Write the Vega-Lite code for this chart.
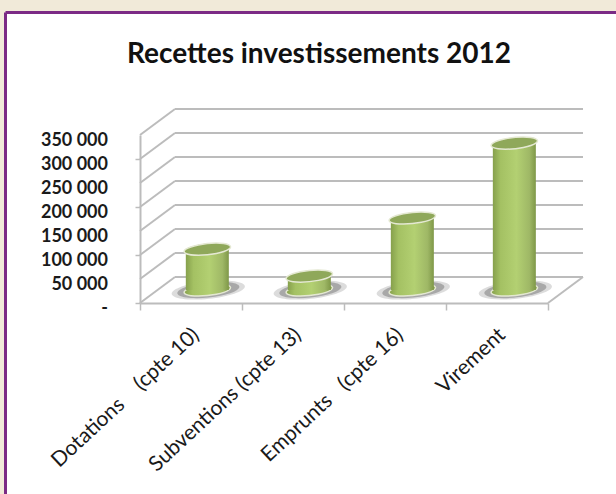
{
"$schema":"https://vega.github.io/schema/vega-lite/v6.json",
"width":408,"height":168,
"autosize":"none",
"padding":{"left":140,"top":135,"right":68,"bottom":191},
"background":"#ffffff",
"config":{"view":{"stroke":null},"font":"Lato"},
"title":{"text":"Recettes investissements 2012","font":"Lato","fontSize":28,"fontWeight":700,"color":"#111111","anchor":"middle","frame":"group","dx":-25,"dy":69,"offset":0},
"datasets":{
"grid":[{"level":0,"label":"-"},{"level":50000,"label":"50 000"},{"level":100000,"label":"100 000"},{"level":150000,"label":"150 000"},{"level":200000,"label":"200 000"},{"level":250000,"label":"250 000"},{"level":300000,"label":"300 000"},{"level":350000,"label":"350 000"}],
"cats":[
{"category":"Dotations\u00a0\u00a0\u00a0\u00a0(cpte 10)","pos":0.66,"mid":0.5,"value":85000},
{"category":"Subventions (cpte 13)","pos":1.66,"mid":1.5,"value":29000},
{"category":"Emprunts\u00a0\u00a0\u00a0(cpte 16)","pos":2.67,"mid":2.5,"value":150000},
{"category":"Virement","pos":3.67,"mid":3.5,"value":306000}]
},
"layer":[
{"data":{"name":"grid"},
 "mark":{"type":"rule","color":"#bcbcbc","strokeWidth":2,"xOffset":35,"x2Offset":35,"yOffset":-26},
 "encoding":{
  "x":{"datum":0,"type":"quantitative","scale":{"domain":[0,4],"nice":false,"zero":false,"padding":0},
   "axis":{"values":[0,1,2,3,4],"title":null,"labels":false,"grid":false,"tickSize":7,"tickColor":"#bcbcbc","tickWidth":1.5,"domainColor":"#bcbcbc","domainWidth":2}},
  "x2":{"datum":4},
  "y":{"field":"level","type":"quantitative","scale":{"domain":[0,350000],"nice":false},
   "axis":{"values":[0,50000,100000,150000,200000,250000,300000,350000],"title":null,"grid":false,"labels":false,"tickSize":5,"tickColor":"#bcbcbc","tickWidth":1.5,"domainColor":"#bcbcbc","domainWidth":2}}}},
{"data":{"values":[{}]},
 "mark":{"type":"rect","fill":"#f1ead9"},
 "encoding":{
  "x":{"datum":-1.3725,"type":"quantitative","scale":{"domain":[0,4],"nice":false,"zero":false,"padding":0}},
  "x2":{"datum":5},
  "y":{"datum":631250,"type":"quantitative","scale":{"domain":[0,350000],"nice":false}},
  "y2":{"datum":605200}}},
{"data":{"values":[{}]},
 "mark":{"type":"rect","fill":"#f1ead9"},
 "encoding":{
  "x":{"datum":-1.3725,"type":"quantitative","scale":{"domain":[0,4],"nice":false,"zero":false,"padding":0}},
  "x2":{"datum":-1.3186},
  "y":{"datum":631250,"type":"quantitative","scale":{"domain":[0,350000],"nice":false}},
  "y2":{"datum":-500000}}},
{"data":{"values":[{}]},
 "mark":{"type":"rule","color":"#7b2a85","strokeWidth":3},
 "encoding":{
  "x":{"datum":-1.3186,"type":"quantitative","scale":{"domain":[0,4],"nice":false,"zero":false,"padding":0}},
  "y":{"datum":605200,"type":"quantitative","scale":{"domain":[0,350000],"nice":false}},
  "y2":{"datum":-500000}}},
{"data":{"values":[{}]},
 "mark":{"type":"rule","color":"#7b2a85","strokeWidth":3},
 "encoding":{
  "x":{"datum":-1.3186,"type":"quantitative","scale":{"domain":[0,4],"nice":false,"zero":false,"padding":0}},
  "x2":{"datum":5},
  "y":{"datum":605200,"type":"quantitative","scale":{"domain":[0,350000],"nice":false}}}},
{"data":{"name":"grid"},
 "mark":{"type":"rule","color":"#bcbcbc","strokeWidth":2,"y2Offset":-26},
 "encoding":{
  "x":{"datum":0,"type":"quantitative","scale":{"domain":[0,4],"nice":false,"zero":false,"padding":0}},
  "x2":{"datum":0.343},
  "y":{"field":"level","type":"quantitative","scale":{"domain":[0,350000],"nice":false}},
  "y2":{"field":"level"}}},
{"data":{"values":[{}]},
 "mark":{"type":"rule","color":"#bcbcbc","strokeWidth":2,"y2Offset":-26},
 "encoding":{
  "x":{"datum":4,"type":"quantitative","scale":{"domain":[0,4],"nice":false,"zero":false,"padding":0}},
  "x2":{"datum":4.343},
  "y":{"datum":0,"type":"quantitative","scale":{"domain":[0,350000],"nice":false}},
  "y2":{"datum":0}}},
{"data":{"name":"grid"},
 "mark":{"type":"text","font":"Lato","fontSize":18,"fontWeight":700,"color":"#1a1a1a","align":"right","baseline":"middle","dx":-32,"dy":6},
 "encoding":{
  "x":{"datum":0,"type":"quantitative","scale":{"domain":[0,4],"nice":false,"zero":false,"padding":0}},
  "y":{"field":"level","type":"quantitative","scale":{"domain":[0,350000],"nice":false}},
  "text":{"field":"label"}}},
{"data":{"name":"cats"},
 "mark":{"type":"point","filled":true,"shape":"M-1,0A1,0.24,-6,1,1,1,0A1,0.24,-6,1,1,-1,0Z","size":4600,"color":"#9c9c9c","opacity":0.35,"xOffset":1,"yOffset":-13},
 "encoding":{
  "x":{"field":"pos","type":"quantitative","scale":{"domain":[0,4],"nice":false,"zero":false,"padding":0}},
  "y":{"datum":0,"type":"quantitative","scale":{"domain":[0,350000],"nice":false}}}},
{"data":{"name":"cats"},
 "mark":{"type":"point","filled":true,"shape":"M-1,0A1,0.24,-6,1,1,1,0A1,0.24,-6,1,1,-1,0Z","size":3300,"color":"#858585","opacity":0.6,"xOffset":1,"yOffset":-13},
 "encoding":{
  "x":{"field":"pos","type":"quantitative","scale":{"domain":[0,4],"nice":false,"zero":false,"padding":0}},
  "y":{"datum":0,"type":"quantitative","scale":{"domain":[0,350000],"nice":false}}}},
{"data":{"name":"cats"},
 "mark":{"type":"point","filled":true,"shape":"M-1,0A1,0.24,-6,1,1,1,0A1,0.24,-6,1,1,-1,0Z","size":1850,"opacity":1,"stroke":"#e4e8d2","strokeWidth":1.5,"yOffset":-13,
  "fill":{"gradient":"linear","x1":0,"x2":1,"y1":0,"y2":0,"stops":[{"offset":0,"color":"#86a04c"},{"offset":0.18,"color":"#a4c163"},{"offset":0.55,"color":"#b3d072"},{"offset":0.85,"color":"#9fb866"},{"offset":1,"color":"#7f9848"}]}},
 "encoding":{
  "x":{"field":"pos","type":"quantitative","scale":{"domain":[0,4],"nice":false,"zero":false,"padding":0}},
  "y":{"datum":0,"type":"quantitative","scale":{"domain":[0,350000],"nice":false}}}},
{"data":{"name":"cats"},
 "mark":{"type":"bar","orient":"vertical","size":43,"yOffset":-13,"y2Offset":-13,
  "fill":{"gradient":"linear","x1":0,"x2":1,"y1":0,"y2":0,"stops":[{"offset":0,"color":"#86a04c"},{"offset":0.18,"color":"#a4c163"},{"offset":0.55,"color":"#b3d072"},{"offset":0.85,"color":"#9fb866"},{"offset":1,"color":"#7f9848"}]}},
 "encoding":{
  "x":{"field":"pos","type":"quantitative","scale":{"domain":[0,4],"nice":false,"zero":false,"padding":0}},
  "y":{"field":"value","type":"quantitative","stack":null,"scale":{"domain":[0,350000],"nice":false}},
  "y2":{"datum":0}}},
{"data":{"name":"cats"},
 "mark":{"type":"point","filled":true,"shape":"M-1,0A1,0.24,-6,1,1,1,0A1,0.24,-6,1,1,-1,0Z","size":1850,"opacity":1,"fill":"#8fa85a","stroke":"#e4e8d2","strokeWidth":1.5,"yOffset":-13},
 "encoding":{
  "x":{"field":"pos","type":"quantitative","scale":{"domain":[0,4],"nice":false,"zero":false,"padding":0}},
  "y":{"field":"value","type":"quantitative","scale":{"domain":[0,350000],"nice":false}}}},
{"data":{"name":"cats"},
 "mark":{"type":"text","font":"Lato","fontSize":21,"color":"#1a1a1a","angle":317,"align":"right","baseline":"middle","dx":-16,"dy":25},
 "encoding":{
  "x":{"field":"mid","type":"quantitative","scale":{"domain":[0,4],"nice":false,"zero":false,"padding":0}},
  "y":{"datum":0,"type":"quantitative","scale":{"domain":[0,350000],"nice":false}},
  "text":{"field":"category"}}}
]
}
